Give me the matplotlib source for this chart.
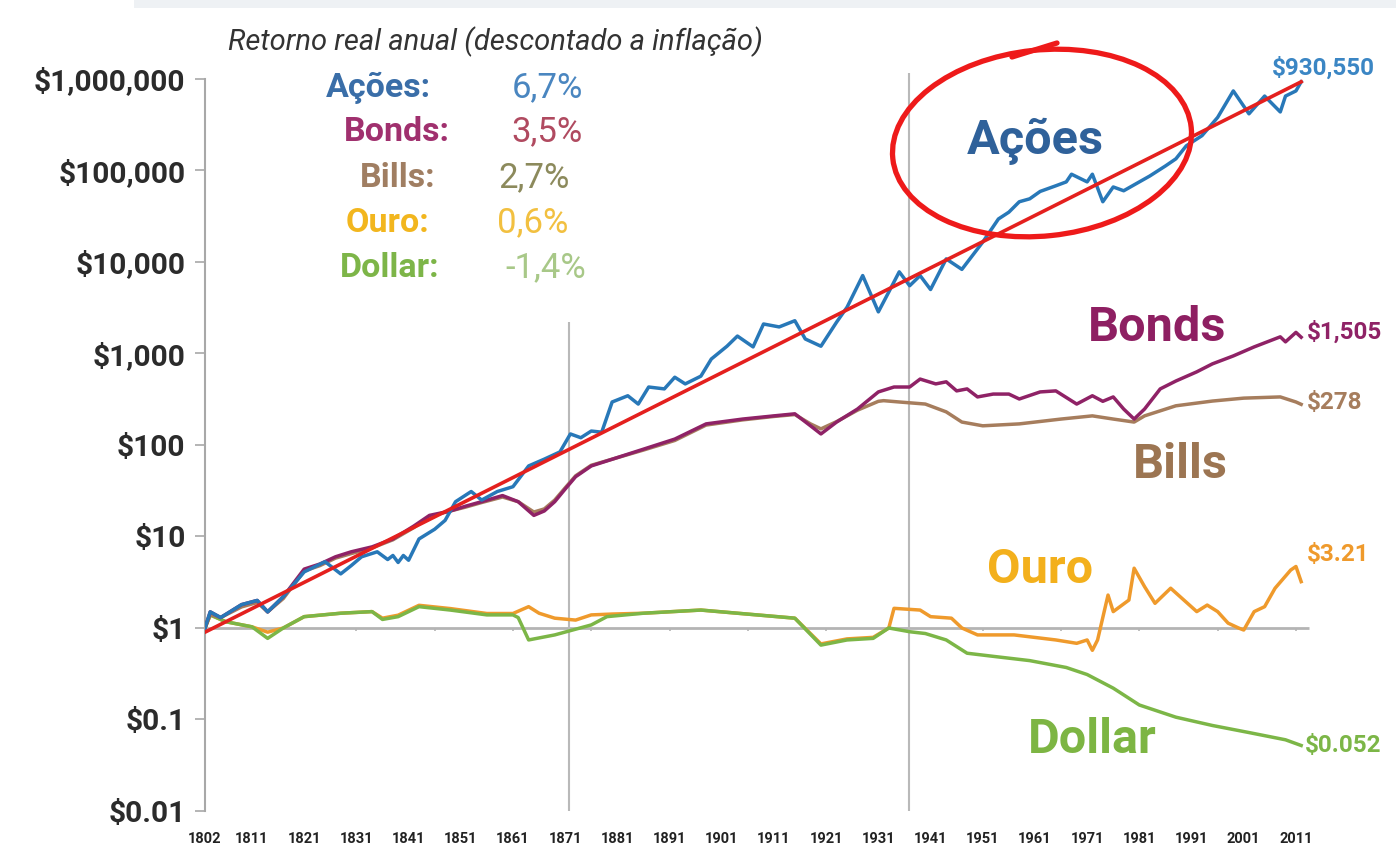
import matplotlib.pyplot as plt
import numpy as np
from matplotlib.patches import Ellipse, Rectangle
from matplotlib.lines import Line2D
from matplotlib.transforms import IdentityTransform

# real total return index, $1 invested in 1802
stock_years = [1802, 1803, 1805, 1809, 1812, 1814, 1817, 1821, 1825, 1828, 1830, 1832, 1835, 1837, 1838,
               1839, 1840, 1841, 1843, 1846, 1848, 1850, 1853, 1855, 1858, 1861, 1864, 1867, 1870, 1872,
               1874, 1876, 1878, 1880, 1883, 1885, 1887, 1890, 1892, 1894, 1897, 1899, 1902, 1904, 1907,
               1909, 1912, 1915, 1917, 1920, 1923, 1925, 1928, 1931, 1933, 1935, 1937, 1939, 1941, 1944,
               1947, 1951, 1954, 1956, 1958, 1960, 1962, 1965, 1967, 1968, 1971, 1972, 1974, 1976, 1978,
               1981, 1983, 1986, 1988, 1990, 1993, 1996, 1999, 2002, 2005, 2008, 2009, 2011, 2012]
stock_vals = [1.0, 1.5, 1.3, 1.8, 2.0, 1.5, 2.2, 4.1, 5.3, 3.9, 4.8, 6.0, 6.8, 5.6, 6.2,
              5.2, 6.2, 5.5, 9.4, 12, 15, 24, 31, 25, 31, 35, 59, 70, 84, 132,
              120, 142, 138, 295, 345, 280, 430, 410, 550, 465, 565, 870, 1200, 1550, 1180,
              2100, 1950, 2280, 1440, 1200, 2200, 3200, 7100, 2850, 4700, 7800, 5500, 7100, 5000, 10800,
              8300, 16500, 29500, 35000, 45500, 49000, 59000, 68000, 75000, 91000, 75000, 91000, 45500, 66000, 60000,
              75000, 87000, 112000, 134000, 186000, 240000, 380000, 740000, 416000, 650000, 436000, 650000, 740000, 930550]

bond_years = [1802, 1803, 1805, 1809, 1812, 1814, 1817, 1821, 1824, 1827, 1830, 1834, 1838, 1842, 1845,
              1849, 1852, 1855, 1859, 1862, 1865, 1867, 1869, 1871, 1873, 1876, 1886, 1892, 1898, 1905,
              1911, 1915, 1918, 1920, 1923, 1927, 1931, 1934, 1937, 1939, 1942, 1944, 1946, 1948, 1950,
              1953, 1956, 1958, 1962, 1965, 1969, 1972, 1974, 1976, 1978, 1980, 1982, 1985, 1988, 1992,
              1995, 1999, 2003, 2008, 2009, 2011, 2012]
bond_vals = [1.0, 1.5, 1.3, 1.8, 2.0, 1.5, 2.2, 4.4, 5.0, 6.0, 6.8, 7.7, 9.4, 13, 17,
             19, 21.5, 24, 28, 24, 17, 19, 24, 33, 45, 59, 90, 116, 170, 192,
             208, 219, 162, 132, 178, 247, 380, 430, 430, 525, 465, 490, 390, 410, 335,
             360, 360, 318, 380, 390, 280, 345, 300, 335, 247, 192, 247, 410, 500, 630,
             770, 940, 1180, 1520, 1340, 1700, 1505]

bill_years = [1802, 1803, 1805, 1809, 1812, 1814, 1817, 1821, 1824, 1827, 1830, 1834, 1838, 1842, 1845,
              1849, 1852, 1855, 1859, 1862, 1865, 1867, 1869, 1871, 1873, 1876, 1886, 1892, 1898, 1905,
              1911, 1915, 1918, 1920, 1923, 1927, 1931, 1932, 1935, 1940, 1944, 1947, 1951, 1958, 1966,
              1972, 1976, 1980, 1982, 1988, 1995, 2001, 2008, 2011, 2012]
bill_vals = [1.0, 1.4, 1.3, 1.7, 1.9, 1.5, 2.1, 4.2, 4.8, 5.8, 6.5, 7.5, 9.2, 12.5, 16.5,
             19, 21, 23.5, 27, 24, 18.5, 20, 25, 34, 46, 60, 88, 112, 165, 188,
             205, 215, 170, 150, 180, 240, 300, 305, 295, 280, 230, 178, 162, 170, 192,
             208, 192, 178, 208, 268, 302, 325, 335, 295, 278]

gold_years = [1802, 1803, 1806, 1811, 1814, 1817, 1821, 1828, 1834, 1836, 1839, 1843, 1849, 1856, 1861,
              1864, 1866, 1869, 1873, 1876, 1880, 1886, 1897, 1904, 1915, 1920, 1925, 1930, 1933, 1934,
              1939, 1941, 1945, 1947, 1950, 1957, 1965, 1969, 1971, 1972, 1973, 1975, 1976, 1979, 1980,
              1982, 1984, 1987, 1992, 1994, 1996, 1998, 2000, 2001, 2003, 2005, 2007, 2010, 2011, 2012]
gold_vals = [1.0, 1.39, 1.17, 1.03, 0.9, 1.0, 1.33, 1.45, 1.51, 1.28, 1.38, 1.77, 1.63, 1.44, 1.44,
             1.71, 1.45, 1.28, 1.22, 1.39, 1.42, 1.45, 1.57, 1.45, 1.28, 0.67, 0.76, 0.79, 1.0, 1.64,
             1.57, 1.33, 1.28, 1.0, 0.84, 0.84, 0.74, 0.68, 0.74, 0.57, 0.74, 2.29, 1.51, 2.02, 4.5,
             2.83, 1.86, 2.72, 1.51, 1.78, 1.51, 1.13, 1.0, 0.95, 1.51, 1.71, 2.72, 4.3, 4.7, 3.21]

dollar_years = [1802, 1803, 1806, 1811, 1814, 1817, 1821, 1828, 1834, 1836, 1839, 1843, 1849, 1856, 1861,
                1862, 1864, 1869, 1876, 1879, 1886, 1897, 1904, 1915, 1920, 1925, 1930, 1933, 1937, 1940,
                1944, 1948, 1953, 1960, 1967, 1971, 1976, 1981, 1988, 1995, 2002, 2009, 2012]
dollar_vals = [1.0, 1.39, 1.17, 1.03, 0.77, 1.0, 1.33, 1.45, 1.51, 1.24, 1.33, 1.71, 1.57, 1.39, 1.39,
               1.3, 0.74, 0.84, 1.08, 1.33, 1.45, 1.57, 1.45, 1.28, 0.65, 0.74, 0.77, 1.0, 0.91, 0.87,
               0.74, 0.53, 0.49, 0.44, 0.37, 0.31, 0.22, 0.144, 0.106, 0.086, 0.072, 0.06, 0.052]

trend_years = [1802, 2012]
trend_vals = [0.9, 930550]

names = ["Ações:", "Bonds:", "Bills:", "Ouro:", "Dollar:"]
rates = ["6,7%", "3,5%", "2,7%", "0,6%", "-1,4%"]
end_labels = ["$930,550", "$1,505", "$278", "$3.21", "$0.052"]
year_ticks = [1802, 1811, 1821, 1831, 1841, 1851, 1861, 1871, 1881, 1891, 1901, 1911, 1921, 1931,
              1941, 1951, 1961, 1971, 1981, 1991, 2001, 2011]
y_ticks = [0.01, 0.1, 1, 10, 100, 1000, 1e4, 1e5, 1e6]
y_labels = ["$0.01", "$0.1", "$1", "$10", "$100", "$1,000", "$10,000", "$100,000", "$1,000,000"]

c_stock = "#2878b8"
c_bond = "#8f2266"
c_bill = "#a67d5d"
c_gold = "#ef9a2c"
c_dollar = "#7cb647"
c_red = "#e4201e"

W, H = 1396, 868
fig = plt.figure(figsize=(W / 100, H / 100), dpi=100)
fig.patch.set_facecolor("white")


def fx(x):
    return x / W


def fy(y):
    return 1 - y / H


# faint strip at the very top of the screenshot
fig.patches.append(Rectangle((fx(134), fy(8)), 1, 1, transform=fig.transFigure,
                             facecolor="#eef1f4", edgecolor="none", zorder=0))

ax = fig.add_axes([fx(205), fy(811), fx(1311.6) - fx(205), fy(51.5) - fy(811)])
ax.set_yscale("log")
ax.set_xlim(1802, 2014)
ax.set_ylim(0.01, 10 ** 6.3)

for s in ["top", "right", "bottom"]:
    ax.spines[s].set_visible(False)
ax.spines["left"].set_color("#a8a8a8")
ax.spines["left"].set_linewidth(1.5)
ax.spines["left"].set_bounds(0.01, 1e6)

ax.set_yticks(y_ticks)
ax.set_yticklabels(y_labels, fontfamily="Roboto", fontweight="bold", fontsize=21.5, color="#2b2b2b")
ax.yaxis.set_minor_locator(plt.NullLocator())
ax.tick_params(axis="y", length=7, width=1.2, color="#a8a8a8", pad=7)
ax.set_xticks(year_ticks)
ax.set_xticklabels([str(y) for y in year_ticks], fontfamily=["Liberation Sans Narrow", "Roboto"],
                   fontweight="bold", fontsize=10.5, color="#222222")
ax.tick_params(axis="x", length=0, pad=15)

# $1 baseline with its small ticks, and the two vertical markers
ax.hlines(1, 1802, 2013.5, color="#b4b4b4", lw=2, zorder=1)
ax.vlines(np.arange(1816, 2012, 15), 0.93, 1, color="#b4b4b4", lw=1.2, zorder=1)
ax.vlines(1871.8, 0.01, 2200, color="#b9b9b9", lw=1.5, zorder=1)
ax.vlines(1936.8, 0.01, 1.15e6, color="#b9b9b9", lw=1.5, zorder=1)

ax.plot(gold_years, gold_vals, color=c_gold, lw=2.5, zorder=3)
ax.plot(dollar_years, dollar_vals, color=c_dollar, lw=2.5, zorder=3.5)
ax.plot(bill_years, bill_vals, color=c_bill, lw=2.5, zorder=4)
ax.plot(bond_years, bond_vals, color=c_bond, lw=2.5, zorder=4)
ax.plot(stock_years, stock_vals, color=c_stock, lw=2.5, zorder=5)
ax.plot(trend_years, trend_vals, color=c_red, lw=2.6, zorder=6)

# series names inside the plot
big = dict(fontfamily=["Liberation Sans Narrow", "Roboto"], fontweight="bold", fontsize=35,
           ha="center", va="center", zorder=7)
ax.text(1961, 2.1e5, "Ações", color="#2f619a", **big)
ax.text(1984.4, 1900, "Bonds", color="#8e1f62", **big)
ax.text(1988.8, 60, "Bills", color="#9c7552", **big)
ax.text(1962, 4.3, "Ouro", color="#f3b01c", **big)
ax.text(1972, 0.06, "Dollar", color="#7db543", **big)

# final values
end_y = [stock_vals[-1], bond_vals[-1], bill_vals[-1], gold_vals[-1], dollar_vals[-1]]
end_c = ["#3b86c4", c_bond, c_bill, c_gold, c_dollar]
end_dy = [1.42, 1.14, 1.06, 1.96, 1.0]
end_dx = [-5.6, 1.1, 1.1, 1.1, 0.7]
for lab, yv, col, dy, dx in zip(end_labels, end_y, end_c, end_dy, end_dx):
    ax.text(2012 + dx, yv * dy, lab, color=col, fontfamily="Roboto", fontweight="bold",
            fontsize=17.5, ha="left", va="center", zorder=7)

# header with annual real returns
fig.text(fx(228), fy(42), "Retorno real anual (descontado a inflação)", fontfamily="Roboto",
         fontstyle="italic", fontsize=21, color="#333333", ha="left", va="center")
name_x = [431, 450, 435, 429, 440]
rate_x = [583, 583, 570, 568, 586]
rows_y = [88, 132, 178, 223, 268]
name_c = ["#3a6ea8", "#a0306e", "#a07e62", "#f2b61e", "#7db548"]
rate_c = ["#4a86c0", "#b04a60", "#8c8a5c", "#f2c040", "#a8c888"]
for n, r, nx, rx, ry, nc, rc in zip(names, rates, name_x, rate_x, rows_y, name_c, rate_c):
    fig.text(fx(nx), fy(ry), n, fontfamily="Roboto", fontweight="bold", fontsize=24.5,
             color=nc, ha="right", va="center")
    fig.text(fx(rx), fy(ry), r, fontfamily="Roboto", fontsize=25, color=rc, ha="right", va="center")

# hand drawn red circle around "Ações"
circle = Ellipse((1042, H - 143), 300, 186, angle=6, transform=IdentityTransform(),
                 fill=False, edgecolor="#ee1a1a", lw=3.8, zorder=10)
fig.patches.append(circle)
fig.add_artist(Line2D([1012, 1057], [H - 57, H - 43], transform=IdentityTransform(),
                      color="#ee1a1a", lw=3.8, solid_capstyle="round", zorder=10))

fig.savefig("out.png", dpi=100)
